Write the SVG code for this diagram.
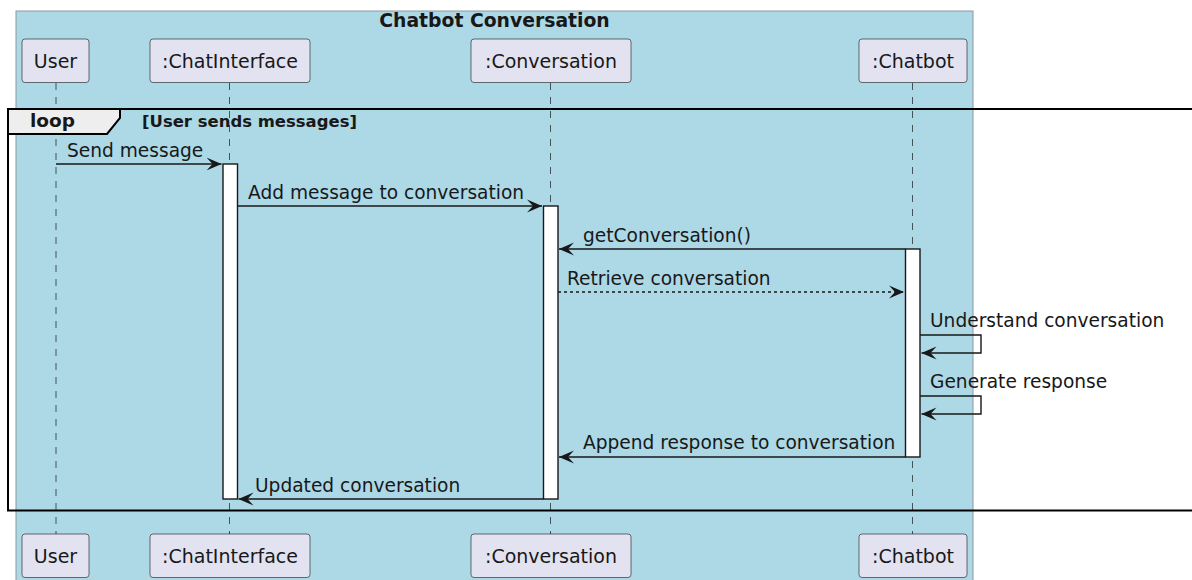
<svg xmlns="http://www.w3.org/2000/svg" width="1192" height="580" viewBox="0 0 1192 580">
<defs>
<marker id="ah" markerWidth="15" markerHeight="14" refX="15" refY="7" orient="auto-start-reverse" markerUnits="userSpaceOnUse" viewBox="0 0 15 14">
<polygon points="0,0.5 15,7 0,13.5 6,7" fill="#181818"/>
</marker>
<style>
text{font-family:"DejaVu Sans","Liberation Sans",sans-serif;fill:#181818}
.p{font-size:19px}
.m{font-size:18.6px}
.pbox{fill:#E2E2F0;stroke:#181818;stroke-width:0.6}
.life{stroke:#181818;stroke-width:0.7;stroke-dasharray:7,7}
.act{fill:#FFFFFF;stroke:#181818;stroke-width:1.4}
.msg{stroke:#181818;stroke-width:1.4;fill:none}
.dash{stroke-dasharray:3,3}
</style>
</defs>
<rect width="1192" height="580" fill="#FFFFFF"/>
<g id="box">
<rect x="16" y="11" width="957" height="575" fill="#ADD8E6" stroke="#8a9aa0" stroke-width="1"/>
<text x="494.5" y="27" text-anchor="middle" font-size="18.8" font-weight="bold">Chatbot Conversation</text>
</g>
<g id="lifelines">
<line class="life" x1="56" y1="83" x2="56" y2="534"/>
<line class="life" x1="229.5" y1="83" x2="229.5" y2="534"/>
<line class="life" x1="550.5" y1="83" x2="550.5" y2="534"/>
<line class="life" x1="912.5" y1="83" x2="912.5" y2="534"/>
</g>
<g id="loop">
<rect x="8" y="109" width="1200" height="401.5" fill="none" stroke="#000" stroke-width="2"/>
<polygon points="8,109 120,109 120,118 107,134 8,134" fill="#EEEEEE" stroke="#000" stroke-width="2"/>
<text x="30" y="127" font-size="18.5" font-weight="bold">loop</text>
<text x="142" y="127" font-size="15.5" font-weight="bold" textLength="215" lengthAdjust="spacingAndGlyphs">[User sends messages]</text>
</g>
<g id="activations">
<rect class="act" x="223" y="164" width="14.5" height="335"/>
<rect class="act" x="543.5" y="206" width="14.5" height="293"/>
<rect class="act" x="905.5" y="249" width="14.5" height="208"/>
</g>
<g id="connectors">
<line class="msg" x1="56" y1="164" x2="221.5" y2="164" marker-end="url(#ah)"/>
<text class="m" x="67" y="157">Send message</text>
<line class="msg" x1="237.5" y1="206" x2="542" y2="206" marker-end="url(#ah)"/>
<text class="m" x="248" y="199">Add message to conversation</text>
<line class="msg" x1="905.5" y1="249" x2="559" y2="249" marker-end="url(#ah)"/>
<text class="m" x="583" y="242">getConversation()</text>
<line class="msg dash" x1="558" y1="292" x2="904" y2="292" marker-end="url(#ah)"/>
<text class="m" x="567" y="285">Retrieve conversation</text>
<polyline class="msg" points="920,335 981,335 981,353 921.5,353" marker-end="url(#ah)"/>
<text class="m" x="930" y="327">Understand conversation</text>
<polyline class="msg" points="920,396 981,396 981,414 921.5,414" marker-end="url(#ah)"/>
<text class="m" x="930" y="388">Generate response</text>
<line class="msg" x1="905.5" y1="457" x2="559" y2="457" marker-end="url(#ah)"/>
<text class="m" x="583" y="449">Append response to conversation</text>
<line class="msg" x1="543.5" y1="499" x2="238.5" y2="499" marker-end="url(#ah)"/>
<text class="m" x="255" y="492">Updated conversation</text>
</g>
<g id="p-user">
<rect class="pbox" x="22" y="39" width="67" height="43.5" rx="3"/>
<text class="p" x="55.5" y="68" text-anchor="middle">User</text>
<rect class="pbox" x="22" y="534" width="67" height="43.5" rx="3"/>
<text class="p" x="55.5" y="563" text-anchor="middle">User</text>
</g>
<g id="p-chatinterface">
<rect class="pbox" x="150" y="39" width="160" height="43.5" rx="3"/>
<text class="p" x="230" y="68" text-anchor="middle">:ChatInterface</text>
<rect class="pbox" x="150" y="534" width="160" height="43.5" rx="3"/>
<text class="p" x="230" y="563" text-anchor="middle">:ChatInterface</text>
</g>
<g id="p-conversation">
<rect class="pbox" x="471" y="39" width="160" height="43.5" rx="3"/>
<text class="p" x="551" y="68" text-anchor="middle">:Conversation</text>
<rect class="pbox" x="471" y="534" width="160" height="43.5" rx="3"/>
<text class="p" x="551" y="563" text-anchor="middle">:Conversation</text>
</g>
<g id="p-chatbot">
<rect class="pbox" x="859" y="39" width="108" height="43.5" rx="3"/>
<text class="p" x="913" y="68" text-anchor="middle">:Chatbot</text>
<rect class="pbox" x="859" y="534" width="108" height="43.5" rx="3"/>
<text class="p" x="913" y="563" text-anchor="middle">:Chatbot</text>
</g>
</svg>
